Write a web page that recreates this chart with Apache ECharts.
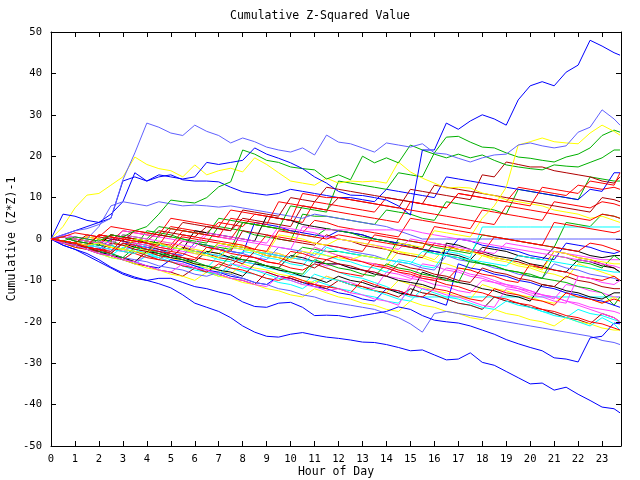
<!DOCTYPE html>
<html><head><meta charset="utf-8">
<script src="https://cdn.jsdelivr.net/npm/echarts@6/dist/echarts.min.js"></script>
<style>html,body{margin:0;padding:0;background:#fff}#c{width:640px;height:480px}</style>
</head><body><div id="c"></div>
<script>
const titleText = "Cumulative Z-Squared Value";
const xName = "Hour of Day";
const yName = "Cumulative (Z*Z)-1";
const hours = [0,0.5,1,1.5,2,2.5,3,3.5,4,4.5,5,5.5,6,6.5,7,7.5,8,8.5,9,9.5,10,10.5,11,11.5,12,12.5,13,13.5,14,14.5,15,15.5,16,16.5,17,17.5,18,18.5,19,19.5,20,20.5,21,21.5,22,22.5,23,23.5,23.75];
const yTicks = [-50,-40,-30,-20,-10,0,10,20,30,40,50];

const lineA = [0,6,5.5,4.5,4,5,14,15,14,15.5,15,14.5,15,18.5,18,18.5,19,22,20.5,19.5,18.4,17,15,13.5,11.5,10.6,10.5,10,9.4,8,5.8,21.5,21.5,28,26.5,28.5,30,29,27.5,33.6,37,38,37,40.3,42,48,46.6,45,44.4];
const lineB = [0,1,2,2.5,3.5,5,14.3,20.8,28,27,25.6,25,27.5,26,25,23.2,24.4,23.5,22.2,21.5,21,22,20.3,25.1,23.4,23,22,21,23.2,22.7,22.2,23,20.8,20.5,19.5,18.6,19.6,20.3,20.5,22.7,23.2,22.5,22,22.5,25.8,27,31.2,29,27.5];
const lineC = [0,3,7.5,10.6,11,13,15,19.8,18,17,16.5,15,17.9,15.5,16.5,17.1,16.2,19.6,18,16,14,13.5,13,14.7,13.5,14,13.8,14,13.5,18.6,16.2,14.7,13.5,12.3,12.5,12.3,11.1,10.5,9.5,9,8.5,8,7,6.5,6,5,5.5,4.5,4];
const lineD = [0,-0.5,-1,-1.5,-1,-2,-2.5,-3,-3.5,-1,-2,-2.5,-3,-4,-4.5,-2,-2.5,-3,-4,-4.5,-5,-3,-3.5,-4,-4.5,-5,-4,-4.5,-5,-1,-1.5,-2,2,1.5,1,0.5,5,8,12.5,22.7,23.5,24.4,23.5,23.2,23,25.6,27.5,26,25.1];
const lineE = [0,-0.5,0.5,0,-0.5,1,0.5,2,3,6,9.4,9,8.7,10,12.6,13.8,21.5,20.5,19,18.5,17.4,17,16.7,14.5,15.5,14.3,20,18.4,19.6,18.4,22.7,21.5,20.5,19.6,20.5,19.6,20.3,19,17.9,17.4,17,16.7,17.9,17.6,17.4,18.5,19.6,21.5,21.5];
const lineG = [0,-1.5,-2.5,-3.5,-5,-6.8,-8.2,-9.2,-10,-10.8,-11.8,-13.5,-15.5,-16.5,-17.5,-19,-21,-22.5,-23.5,-23.7,-23,-22.6,-23.2,-23.7,-24,-24.4,-24.9,-25,-25.5,-26.2,-27,-26.8,-28,-29.2,-29,-27.5,-29.8,-30.5,-32,-33.5,-35,-34.8,-36.5,-35.8,-37.5,-39,-40.6,-41,-42];
const lineH = [0,-1.5,-2.5,-4,-5.5,-7,-8.5,-9.5,-10,-9.5,-9.5,-10.5,-11.5,-12,-12.8,-13.5,-15.2,-16.3,-16.5,-15.5,-15.3,-16.5,-18.5,-18.4,-18.5,-19,-18.5,-18,-17.5,-16.4,-17,-18.5,-19.6,-20,-20.3,-21,-22,-23,-24.3,-25.3,-26.2,-27,-28.7,-29,-29.7,-23.9,-23.5,-20.3,-20.5];
const lineI = [0,-1,-1.5,-2.5,-3,-3.5,-4.5,-5,-5.5,-6.5,-7,-7.5,-8.5,-9,-8,-8.5,-9.5,-10.5,-11,-12,-12.5,-13.5,-14,-15,-15.5,-16,-16.5,-17,-18,-19,-20.5,-22.5,-18,-17.5,-18,-18.5,-19,-19.5,-20,-20.5,-21,-21.5,-22,-22.5,-23,-23.5,-24.5,-25,-25.5];
const f1 = [0,-0.5,-1,0.5,0,-0.5,2,1.5,1,0.5,3,2.5,2,1.5,4,3.5,3,6,5.5,5,4.5,4,9,8.5,8,7.5,7,6.5,10,9.5,9,8.5,8,7.5,11,10.5,10,9.5,9,12.5,12,11.5,11,10.5,13,12.5,12,12.5,12];
const f2 = [0,0.5,0,-0.5,-1,1,0.5,0,-0.5,-1,-1.5,2,1.5,1,0.5,0,4,3.5,3,2.5,2,1.5,4.5,4,3,2.5,2,1.5,1,0.5,5,4.5,4,3.5,3,2.5,7,6.5,6,5.5,5,4.5,9,8.5,8,7.5,9,8.5,8];
const f3 = [0,-0.5,-1,-1.5,1,0.5,0,-0.5,-1,-1.5,-2,0.5,0,-0.5,-1,-1.5,-2,-2.5,1,0.5,0,-0.5,-1,-1.5,-2,-2.5,-3,1,0.5,0,-0.5,-1,-1.5,-2,-2.5,-3,-3.5,0.5,0,-0.5,-1,-1.5,-2,-2.5,-3,-1,-1.5,-2.5,-3];
const f4 = [0,-1,-1.5,-2.5,-3,-2,-3,-3.5,-4.5,-5,-3,-3.5,-4.5,-5,-5.5,-6.5,-4,-4.5,-5.5,-6,-7,-7.5,-6,-7,-8,-8.5,-9,-6,-6.5,-7.5,-8,-9,-9.5,-10,-7,-7.5,-8.5,-9,-10,-10.5,-6,-7,-7.5,-8,-9,-9.5,-10,-9,-10];
const f5 = [0,-1,-2,-2.5,-3.5,-4,-5,-3,-4,-5,-5.5,-6.5,-7,-8,-6,-7,-7.5,-8.5,-9.5,-10,-9,-10,-11,-11.5,-12,-13,-10,-11,-12,-12.5,-13.5,-14,-12,-12.5,-13.5,-14.5,-15,-12,-13,-13.5,-14.5,-15,-16,-13,-14,-14.5,-15.5,-14.5,-15];
const f6 = [0,-1,-1.5,-2,0,-0.5,-1.5,-2,2,1.5,1,0,-0.5,-1,3,2.5,2,1,0.5,0,-0.5,6,5.5,5.5,5,4.5,4,3.5,7,6.5,6,5,4.5,9,8.5,8,7.5,7,6,12,11.5,11,10.5,10,9.5,15,14.5,14,14];
const f7 = [0,0.5,-0.5,-1,-1.5,-2,-2.5,0,-0.5,-1,-2,-2.5,-3,-3.5,-1,-1.5,-2,-3,-3.5,-4,-4.5,-2,-2.5,-3,-3,-3.5,-4,-4.5,-5,0,-0.5,-1,-2,-2.5,-3,-3.5,1,0.5,0,-0.5,-1,-1.5,-2,4,3.5,3,6,5.5,5];
const f8 = [0,-0.5,-1,-2,-1,-1.5,-2.5,-3,-3.5,1,0.5,0,-1,-1.5,-2,-2.5,4,3.5,3,2.5,1.5,1,0.5,2.5,2,1.5,0.5,0,-0.5,-1.5,-2,-2.5,-3.5,-4,-4.5,-5.5,-6,-6.5,-7.5,-8,-8.5,-9.5,-10,-10.5,-11.5,-12,-13,-16,-14];
const f9 = [0,-0.5,-1.5,-2,-2.5,-1,-1.5,-2.5,-3,-3.5,-4.5,-2,-2.5,-3.5,-4,-4.5,-5.5,-6,-3,-3.5,-4.5,-5,-5.5,-6.5,-6,-7,-7.5,-8,-9,-9.5,-10,-6,-6.5,-7.5,-8,-9,-9.5,-10.5,-11,-12,-12.5,-13.5,-14,-15,-15.5,-16.5,-17,-17.5,-18];
const f10 = [0,-1,-1.5,-2.5,-3,-4,-4.5,-5.5,-4,-4.5,-5.5,-6,-7,-7.5,-8.5,-6,-6.5,-7.5,-8,-9,-9.5,-10.5,-11,-9,-10,-10.5,-11.5,-12,-8,-8.5,-9.5,-10,-11,-11.5,-12.5,-13,-10,-10.5,-11.5,-12,-13,-13.5,-14.5,-11,-11.5,-12.5,-13,-14,-14];
const f11 = [0,1,0.5,0,-0.5,-1,2,1.5,1,0.5,0,-0.5,-1,1.5,1,0.5,0,-0.5,-1,3,2.5,2,1.5,0.5,0,-0.5,-1,-1.5,-2,-2.5,0,-0.5,-1,-1.5,-2,-2.5,-3,-3.5,-1,-1.5,-2,-2.5,-3,-3.5,-4,-4.5,-5,-5,-5];
const f12 = [0,-0.5,-1,-1.5,-2,-2.5,-3,-1,-1.5,-2,-2.5,-3,-3.5,-4,-1.5,-2,-2.5,-3,-3.5,-4,-4.5,-5,-2,-3,-4,-4.5,-5.5,-6,-7,-8,-9,-9.5,-10,-7,-7.5,-8.5,-9,-10,-11,-11.5,-12.5,-13.5,-14,-15,-16,-17,-18,-19,-20];
const f13 = [0,-1,-1.5,-2.5,-3,-4,-2,-2.5,-3.5,-4,-5,-5.5,-6.5,-7,-4,-4.5,-5.5,-6,-7,-7.5,-8.5,-9,-6,-7,-8,-9,-9.5,-10.5,-11.5,-13,-14,-14,-14,-14,-14,-14,-14,-14,-14,-14,-14,-14,-14,-14,-14,-14,-14,-14,-14];
const f14 = [0,-1,-2,-2.5,-3.5,-4.5,-5,-6,-4,-5,-5.5,-6.5,-7.5,-8,-9,-7,-8,-8.5,-9.5,-10.5,-11,-12,-10,-11,-12,-12.5,-13.5,-14,-15,-15.5,-12,-13,-13.5,-14.5,-15.5,-16,-17,-14,-15,-15.5,-16.5,-17.5,-18,-19,-17,-18,-18.5,-19.5,-20];
const f15 = [0,-0.5,-1.5,-2,-1,-1.5,-2.5,-3,-3.5,-4.5,-2,-2.5,-3.5,-4,-5,-5.5,-3,-3.5,-4.5,-5,-6,-6.5,-3,-4,-5,-5.5,-6.5,-7,-8,-5,-5.5,-6.5,-7,-3,-3.5,-4.5,2.9,2.9,2.9,2.9,2.9,2.9,2.9,2.9,2.9,2.9,2.9,2.9,2.9];
const f16 = [0,-1,-1.5,-2.5,-3.5,-4,-5,-3,-4,-4.5,-5.5,-6.5,-7,-8,-8.5,-6,-7,-7.5,-8.5,-9.5,-10,-11,-8.5,-9.5,-10,-11,-12,-12.5,-13.5,-14.5,-15,-12,-13,-14,-14.5,-15.5,-16.5,-17,-15,-16,-16.5,-17.5,-18.5,-19,-20,-21,-19,-20.5,-22];
const f17 = [0,0.5,0,-0.5,-1,1,0.5,0,-0.5,2,1.5,1,0.5,3,2.5,2,5,4.5,4,3.5,3,8,7.5,7,10,9.5,9,8.5,8,7.5,12,11.5,11,10.5,10,9.5,15.5,15,18.6,18,17.4,17.4,16.5,16,15.5,15,14,13.5,15];
const f18 = [0,-0.5,-1.5,-2,1,0.5,-0.5,-1,-1.5,-2.5,-3,-0.5,-1,-2,-2.5,-3,2,1.5,1,0,-0.5,-1,-1.5,1,0,-0.5,-1.5,-2,-2.5,-3.5,-4,-4.5,-1,-1.5,-2.5,-3,-3.5,-4.5,-5,-5.5,-6.5,-7,-3,-3.5,-4.5,-5,-6,-7,-8];
const f19 = [0,-1,-1.5,-2.5,-3.5,-4,-5,-6,-6.5,-7.5,-8,-9,-7,-8,-8.5,-9.5,-10,-11,-8,-9,-9.5,-10.5,-11,-12,-10,-11,-11.5,-12.5,-13,-14,-12,-13,-13.5,-14.5,-15.5,-16,-17,-14,-15,-15.5,-16.5,-17,-18,-19,-19.5,-20.5,-18,-19,-20];
const f20 = [0,-0.5,-1.5,-2,-3,-1,-1.5,-2.5,-3,-4,-4.5,-2,-3,-3.5,-4.5,-5,-6,-3,-4,-4.5,-5.5,-6,-7,-5,-6,-6.5,-7.5,-8,-9,-6,-7,-7.5,-8.5,-9,-10,-10.5,-7,-8,-8.5,-9.5,-10,-11,-11.5,-9,-10,-10.5,-11.5,-12,-12];
const f21 = [0,-0.5,-1,0.5,0,-1,-1.5,-2,-3,-0.5,-1,-2,-2.5,-3,-3.5,-1,-1.5,-2.5,-3,-3.5,-4.5,-5,-2,-3,-4,-4.5,-5.5,-6,-6.5,-3,-4,-4.5,-5.5,-6,-7,-7.5,-4,-5,-5.5,-6.5,-7,-8,-8.5,-9.5,-6,-7,-8,-9,-10];
const f22 = [0,-1,-1.5,-2.5,-3,-4,-4.5,-5.5,-3,-4,-4.5,-5.5,-6,-7,-7.5,-8.5,-6,-7,-7.5,-8.5,-9,-10,-10.5,-9,-10,-11,-11.5,-12.5,-13,-10,-11,-11.5,-12.5,-13,-14,-14.5,-11,-12,-12.5,-13.5,-14,-15,-15.5,-13,-14,-14.5,-15.5,-14,-15];
const f23 = [0,-1,-2,-2.5,-3.5,-4.5,-5,-6,-7,-7.5,-8.5,-9,-10,-8,-9,-9.5,-10.5,-11,-12,-12.5,-13.5,-14,-12,-13,-14,-14.5,-15.5,-16,-17,-17.5,-15,-16,-16.5,-17.5,-18,-19,-19.5,-17,-18,-18.5,-19.5,-20,-21,-19,-20,-20.5,-21.5,-22,-22];
const f24 = [0,0.5,-0.5,-1,-1.5,1,0.5,0,-1,-1.5,-2,-2.5,2,1.5,1,0.5,0,-0.5,5.5,5,4.5,3.5,3,2.5,2,1.5,1,0,-0.5,-1,-1.5,-2.5,-3,-3.5,-4,-5,-2,-2.5,-3,-4,-4.5,-5,-2,-2.5,-3,-4,-4.5,-4,-4];
const f25 = [0,-0.5,-1.5,-2,-2.5,-3.5,-1,-2,-2.5,-3,-4,-4.5,-5.5,-3,-3.5,-4.5,-5,-5.5,-6.5,-7,-4,-4.5,-5.5,-6,-6,-7,-7.5,-8.5,-9,-10,-10.5,-11,-12,-1,-1.5,-2.5,-3,-4,-4.5,-5,-6,-6.5,-7.5,-8,-5,-5.5,-6.5,-7,-8];
const f26 = [0,1,0.5,0,3,8,9,8.5,8,9,8.5,8,8.2,8,7.7,8,7.5,7,6.5,6,5.5,5,6,5.5,5,4.5,4,3.5,3,2,1,0,0,0,0,0,0,0,0,0,0,0,0,0,0,0,0,0,0];
const f27 = [0,-0.5,-1,-2,-2.5,-3,-1,-1.5,-2,-3,-3.5,-4,-1,-1.5,-2.5,-3,-3.5,-4.5,-5,-2,-2.5,-3,-4,-1.5,-2,-3,-3.5,-4,-5,-5.5,-6,-7,-7.5,-4,-5,-5.5,-6,-7,-7.5,-8.5,-9,-9.5,-6,-7,-7.5,-8.5,-9,-9.5,-10];
const f28 = [0,1,2,3,4,6,9,16,14,15,15.5,14.3,14,14,13.8,12.5,11.4,11,10.6,11,12,11.5,11,10.5,10,10,9.5,9,12,11.5,11,10.5,10,15,14.5,14,13.5,13,12.5,12,11.5,11,10.5,10,9.5,12,11.5,16,16];
const f29 = [0,-0.5,-1,-2,-2.5,0,-0.5,-1.5,-2,-2.5,-3.5,-4,-1,-1.5,-2.5,-3,-3.5,4,3.5,3,2,1.5,1,0.5,2,1.5,1,0,-0.5,-1,-2,-2.5,-3,-3.5,0,-0.5,-1.5,-2,-2.5,-3,-4,-4.5,-5,-1,-1.5,-2,-3,-3.5,-3];
const f30 = [0,-0.5,-1,-1.5,1,0.5,0,-0.5,-1,-1.5,2.5,2,1.5,1,0.5,5,4.5,4,3.5,9,8.5,8,7.5,7,6.5,6,5.5,5,4.5,4,9,8.5,8,7.5,11,10.5,10,9.5,9,8.5,8,12.5,12,11.5,11,14,13.5,13,16];
const f31 = [0,0.5,0,-0.5,-1,-1.5,1,0.5,0,3,2.5,2,1.5,1,5,4.5,4,3.5,3,2.5,8,7.5,7,6.5,14,13.5,13,12.5,12,16,15.5,15,20.8,24.6,24.8,23.4,22.2,22,20.8,19.8,19.5,19,18.6,19.8,20.5,22,25,26.3,25.8];
const f32 = [0,-1,-1.5,-2.5,-3,-4,-5,-5.5,-6.5,-7,-5,-5.5,-6.5,-7.5,-8,-9,-9.5,-10.5,-11,-9,-9.5,-10.5,-11.5,-12,-13,-13.5,-14.5,-15,-12,-12.5,-13.5,-14,-15,-16,-6,-7,-7.5,-8.5,-9,-10,-10.5,-11.5,-12,-13,-13.5,-14.5,-15,-16,-16.5];
const f33 = [0,-0.5,-1,-2,-2.5,-3.5,-1,-1.5,-2.5,-3,-3.5,-4.5,-5,-2,-2.5,-3.5,-4,-4.5,-5.5,-6,-3,-3.5,-4.5,-5,-4,-5,-5.5,-6.5,-7,-8,-8.5,-9.5,-10,-11,-11.5,-12.5,-13,-14,-14.5,-15.5,-16,-17,-17.5,-18.5,-19,-20,-20.5,-21.5,-22];
const f34 = [0,0.5,0,-0.5,-1,-1.5,1,0.5,0,-0.5,-1,-1.5,-2,1,0.5,0,-0.5,-1,-1.5,-2,-2.5,3,2.5,2.2,2.2,2.2,2.2,2.2,2.2,2.2,2.2,1.5,1,0.5,0,-0.5,-1,-1.5,-2,-2.5,-3,-3.5,-4,-4.5,-5,-5.5,-6,-6.5,-7];
const f35 = [0,0.5,1.5,1,0.5,3,2.5,2,1.5,1,5,4.5,4,3.5,3,7,6.5,6,5.5,5,4.5,11,10.5,10,10,9.5,9,8.5,8,7.5,7,6.5,6,5.5,5,4.5,4,3.5,8,7.5,7,6.5,6,5.5,5,4.5,6,5.5,5];
const f36 = [0,-0.5,-1,1,0.5,0,-0.5,2,1.5,1,0.5,4,3.5,3,2.5,2,7,6.5,6,5.5,10,9.5,9,12.5,12,11.5,11,10.5,10,9.5,9,8.5,13,12.5,12,11.5,11,10.5,10,9.5,9,8.5,8,7.5,7,6.5,10,9.5,9];
const f37 = [0,0.5,0,-0.5,-1,-2,-2.5,0,-0.5,-1.5,-2,-2.5,-3.5,-4,-1,-1.5,-2,-3,-3.5,1,0.5,0,-1,-1.5,0,-0.5,-1,-1.5,-2.5,-3,-3.5,-4,-5,-2,-2.5,-3,-4,-4.5,-5,-6,-6.5,-7.5,-3,-3.5,-4.5,-5,-5.5,-6,-6];
const f38 = [0,-0.5,-1,-1.5,-2,-2.5,-3,-3.5,-1,-1.5,-2,-2.5,-3,-3.5,-4,-2,-2.5,-3,-3.5,-4,-4.5,-5,-5.5,-2,-3,-3.5,-4,-4.5,-5,-5.5,-6,-3,-3.5,-4,-4.5,-5,-5.5,-6,-6.5,-4,-4.5,-5,-5.5,-6,-6.5,-7,-7.5,-8,-8];
const f39 = [0,-0.5,-1.5,-2,-3,-3.5,-4.5,-2,-2.5,-3.5,-4,-5,-5.5,-6.5,-7,-4,-5,-5.5,-6.5,-7,-8,-8.5,-5,-6,-7,-7.5,-8.5,-9,-6,-7,-7.5,-8.5,-9,-10,-10.5,-5,-6,-6.5,-7.5,-8,-9,-9.5,-4,-4.5,-5.5,-6,-7,-4,-5];
const f40 = [0,-1,-1.5,-2.5,-3.5,-4,-5,-5.5,-6.5,-7.5,-8,-6,-7,-7.5,-8.5,-9.5,-10,-11,-11.5,-9,-10,-11,-11.5,-12.5,-12,-13,-13.5,-14.5,-15,-16,-11,-12,-12.5,-13.5,-14,-15,-16,-16.5,-12,-12.5,-13.5,-14,-15,-15.5,-9,-9.5,-10.5,-11,-10];
const f41 = [0,-1,-1.5,-2.5,-3,-4,-4.5,-5.5,-3,-3.5,-4.5,-5,-6,-6.5,-7.5,-8,-9,-6,-6.5,-7.5,-8,-9,-9.5,-10.5,-9,-10,-10.5,-11.5,-12,-13,-13.5,-8,-9,-9.5,-10.5,-11,-12,-12.5,-13.5,-14,-15,-11,-11.5,-12.5,-13,-14,-14.5,-13,-13];
const f42 = [0,-0.5,-1,-2,-2.5,-3,0,-0.5,-1,-2,-2.5,1,0.5,0,-0.5,-1,-1.5,-2.5,-3,2,1.5,1,0.5,0,1,0.5,0,-0.5,-1,-1.5,-2,-2.5,3,2.5,2,1.5,1,0.5,0,-0.5,-1,-1.5,4,3.5,3,2.5,2,1.5,2];

const RED='#ff0000', GREEN='#00b000', BLUE='#0000ff', LBLUE='#6060ff', YEL='#ffff00', MAG='#ff40ff', CYAN='#00ffff', DRED='#b00000', BLK='#000000';
const seriesList = [
  [f1,RED],[f6,GREEN],[f28,BLUE],[f9,MAG],[f13,CYAN],[f17,DRED],[f21,YEL],[f24,BLK],[f26,LBLUE],
  [f2,RED],[f7,GREEN],[f29,BLUE],[f10,MAG],[f14,CYAN],[f18,DRED],[f22,YEL],[f25,BLK],[f27,LBLUE],
  [f3,RED],[f8,GREEN],[f32,BLUE],[f11,MAG],[f15,CYAN],[f19,DRED],[f23,YEL],[f41,BLK],[lineI,LBLUE],
  [f4,RED],[f39,GREEN],[lineH,BLUE],[f12,MAG],[f16,CYAN],[f20,DRED],[f37,YEL],
  [f5,RED],[f31,GREEN],[lineG,BLUE],[f34,MAG],[f38,CYAN],[f36,DRED],[lineC,YEL],
  [f30,RED],[lineE,GREEN],[lineA,BLUE],[f40,MAG],[lineD,YEL],[lineB,LBLUE],
  [f33,RED],[f35,RED],[f42,RED]
];

const FONT = 'DejaVu Sans Mono';
const chart = echarts.init(document.getElementById('c'), null, {renderer:'canvas'});
chart.setOption({
  animation:false,
  backgroundColor:'#ffffff',
  title:{text:titleText,left:'center',top:5,textStyle:{fontFamily:FONT,fontSize:11.5,fontWeight:'normal',color:'#000'}},
  grid:{left:51,right:19,top:32,bottom:34,containLabel:false,outerBoundsMode:'none'},
  xAxis:[
    {type:'value',min:0,max:23.79,interval:1,position:'bottom',
     name:xName,nameLocation:'middle',nameGap:20,nameMoveOverlap:false,nameTextStyle:{fontFamily:FONT,fontSize:11.5,color:'#000',verticalAlign:'top'},
     axisLine:{show:true,onZero:false,lineStyle:{color:'#000',width:1}},
     axisTick:{show:true,inside:true,length:5,lineStyle:{color:'#000'}},
     axisLabel:{fontFamily:FONT,fontSize:10.5,color:'#000',margin:8,showMaxLabel:false,hideOverlap:false,
       formatter:v=>Number.isInteger(v)?String(v):''},
     splitLine:{show:false}},
    {type:'value',min:0,max:23.79,interval:1,position:'top',
     axisLine:{show:true,onZero:false,lineStyle:{color:'#000',width:1}},
     axisTick:{show:true,inside:true,length:5,lineStyle:{color:'#000'}},
     axisLabel:{show:false},splitLine:{show:false}}
  ],
  yAxis:[
    {type:'value',min:yTicks[0],max:yTicks[yTicks.length-1],interval:10,position:'left',
     name:yName,nameLocation:'middle',nameGap:33,nameMoveOverlap:false,nameRotate:90,nameTextStyle:{fontFamily:FONT,fontSize:11.5,color:'#000'},
     axisLine:{show:true,onZero:false,lineStyle:{color:'#000',width:1}},
     axisTick:{show:true,inside:true,length:5,lineStyle:{color:'#000'}},
     axisLabel:{fontFamily:FONT,fontSize:10.5,color:'#000',margin:9},
     splitLine:{show:false}},
    {type:'value',min:yTicks[0],max:yTicks[yTicks.length-1],interval:10,position:'right',
     axisLine:{show:true,onZero:false,lineStyle:{color:'#000',width:1}},
     axisTick:{show:true,inside:true,length:5,lineStyle:{color:'#000'}},
     axisLabel:{show:false},splitLine:{show:false}}
  ],
  series: seriesList.map(([vals,color],k)=>({
    type:'line', xAxisIndex:0, yAxisIndex:0, showSymbol:false, symbol:'none',
    lineStyle:{color:color,width:1}, itemStyle:{color:color},
    data: hours.map((h,i)=>[h, vals[i]]), silent:true, z:2
  }))
});
</script></body></html>
